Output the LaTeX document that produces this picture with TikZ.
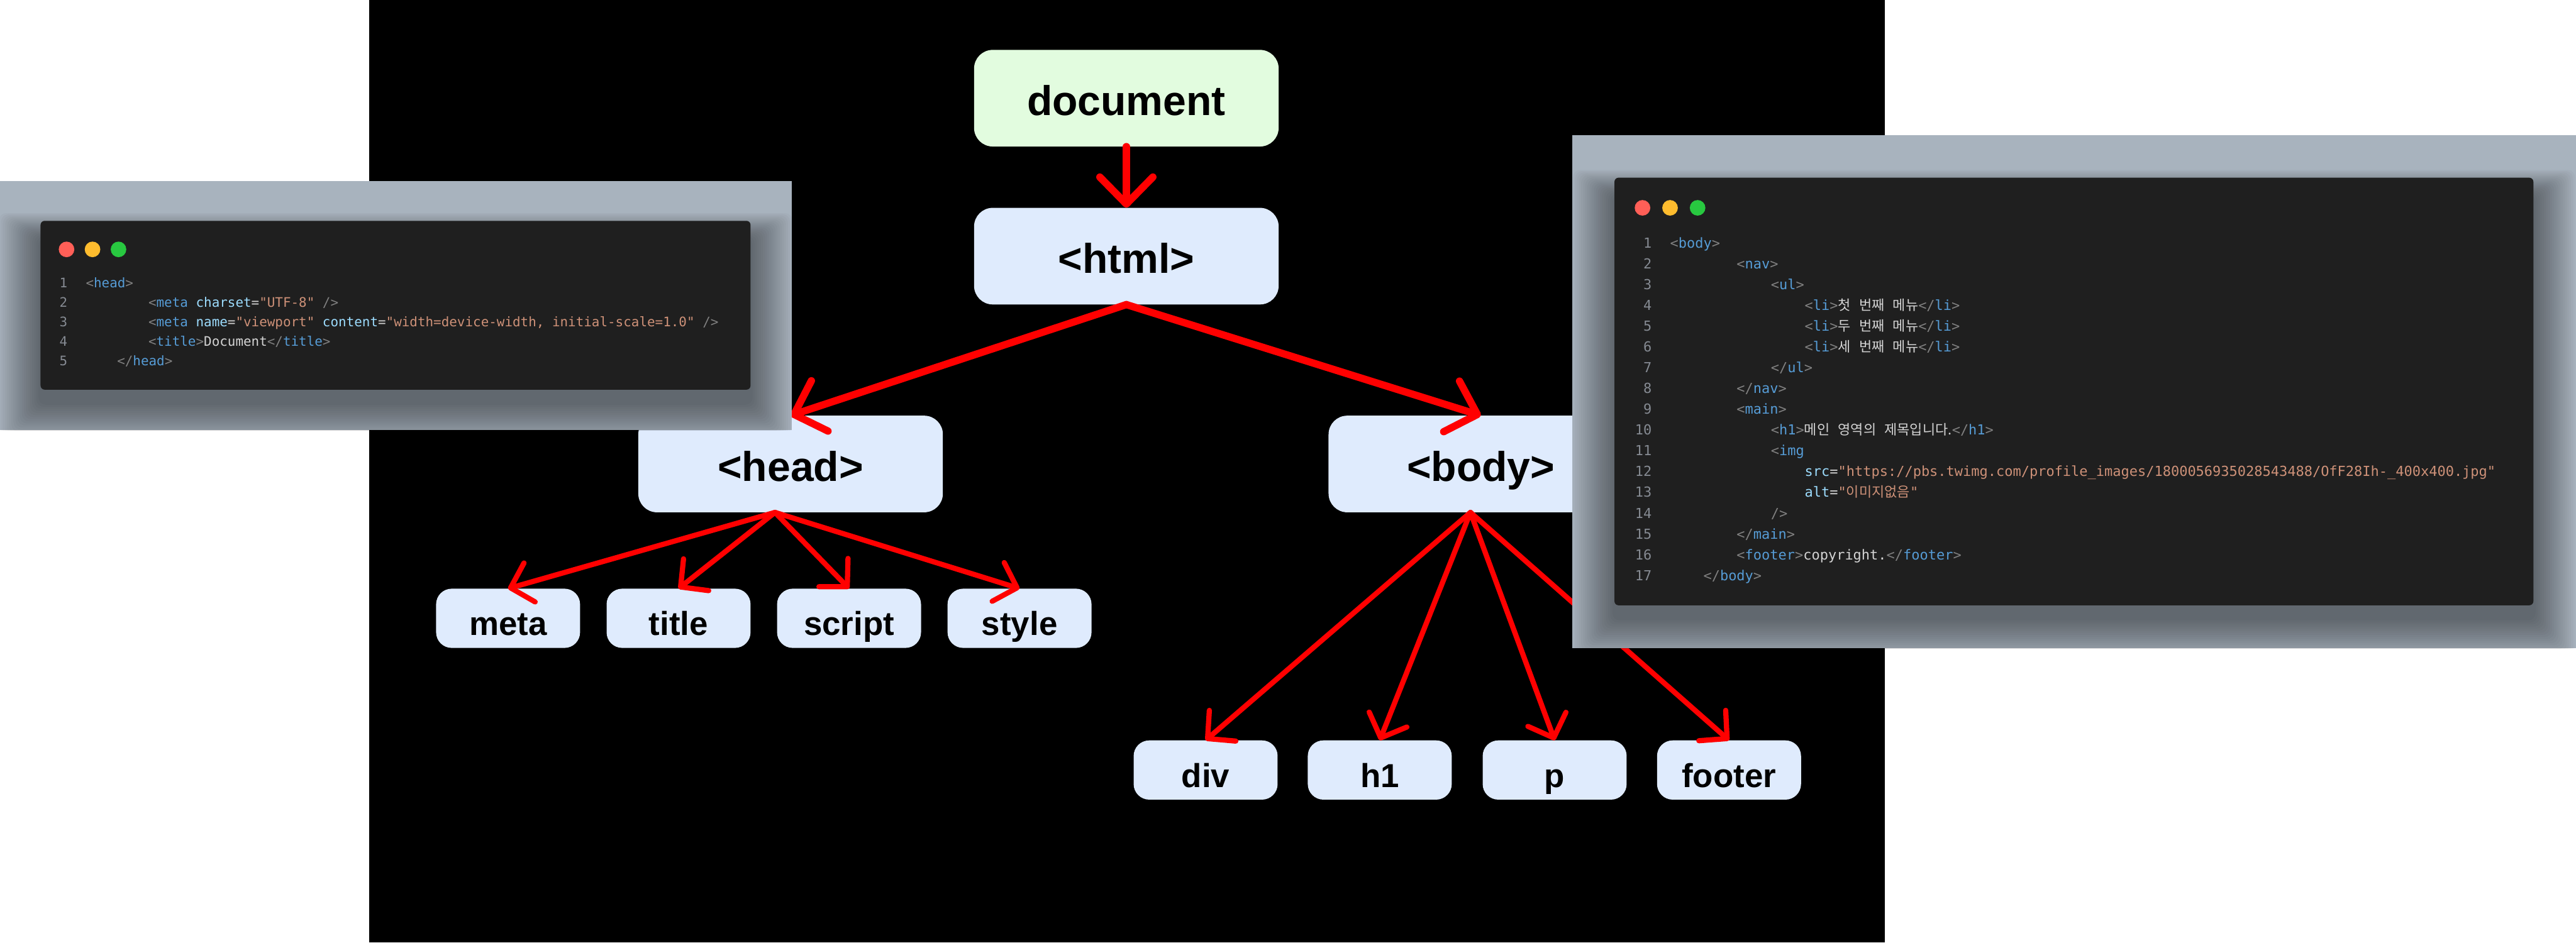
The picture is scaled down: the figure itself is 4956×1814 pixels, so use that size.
\documentclass[tikz,border=0pt]{standalone}
\usepackage{fontspec}
\setmainfont{Liberation Sans}
\setmonofont{DejaVu Sans Mono}
\newfontfamily\krfont{Noto Sans CJK KR}
\usetikzlibrary{arrows.meta}
\definecolor{nodeblue}{HTML}{DFEBFD}
\definecolor{nodegreen}{HTML}{E2FCDF}
\definecolor{panelbg}{HTML}{A8B3BE}
\definecolor{cardbg}{HTML}{1F1F1F}
\definecolor{cBr}{HTML}{808080}
\definecolor{cTag}{HTML}{569CD6}
\definecolor{cAttr}{HTML}{9CDCFE}
\definecolor{cStr}{HTML}{CE9178}
\definecolor{cTxt}{HTML}{D4D4D4}
\definecolor{cNum}{HTML}{858A92}
\definecolor{arrowred}{HTML}{FF0000}
\definecolor{tlred}{HTML}{FF5F57}
\definecolor{tlyellow}{HTML}{FEBC2E}
\definecolor{tlgreen}{HTML}{28C840}
\newcommand\kr[1]{{\krfont #1}}
\newcommand\cBr[1]{\textcolor{cBr}{#1}}
\newcommand\cTg[1]{\textcolor{cTag}{#1}}
\newcommand\cAt[1]{\textcolor{cAttr}{#1}}
\newcommand\cSt[1]{\textcolor{cStr}{#1}}
\newcommand\otag[1]{\cBr{<}\cTg{#1}\cBr{>}}
\newcommand\ctag[1]{\cBr{</}\cTg{#1}\cBr{>}}
\tikzset{
  topnode/.style={rounded corners=36pt, fill=nodeblue, minimum width=586pt, minimum height=186pt,
    inner sep=0pt, text height=66pt, text depth=0pt, font=\bfseries\fontsize{80}{96}\selectfont},
  leafnode/.style={rounded corners=30pt, fill=nodeblue, minimum width=277pt, minimum height=114pt,
    inner sep=0pt, text height=66pt, text depth=0pt, font=\bfseries\fontsize{64}{77}\selectfont},
  toparrow/.style={draw=arrowred, line width=14pt, line cap=round,
    -{Straight Barb[length=52pt,width=102pt,round]}},
  leafarrow/.style={draw=arrowred, line width=10pt, line cap=round,
    -{Straight Barb[length=38pt,width=78pt,round]}},
  lcode/.style={anchor=base west, inner sep=0pt, text=cTxt, font=\ttfamily\fontsize{25.3}{30}\selectfont},
  lnum/.style={anchor=base east, inner sep=0pt, text=cNum, font=\ttfamily\fontsize{25.3}{30}\selectfont},
  rcode/.style={anchor=base west, inner sep=0pt, text=cTxt, font=\ttfamily\fontsize{26.6}{32}\selectfont},
  rnum/.style={anchor=base east, inner sep=0pt, text=cNum, font=\ttfamily\fontsize{26.6}{32}\selectfont},
  light/.style={circle, minimum size=30pt, inner sep=0pt},
  shadowstep/.style={black, opacity=0.022, rounded corners=14pt},
}
\begin{document}
\begin{tikzpicture}[x=1pt, y=-1pt]
\useasboundingbox (0,0) rectangle (4956,1814);
\fill[white] (0,0) rectangle (4956,1814);
\fill[black] (710,0) rectangle (3626,1814);

% tree nodes
\node[topnode, fill=nodegreen] (doc) at (2167,189) {document};
\node[topnode] (html) at (2167,493) {<html>};
\node[topnode] (head) at (1521,893) {<head>};
\node[topnode] (body) at (2849,893) {<body>};
\node[leafnode] (meta) at (977.5,1190) {meta};
\node[leafnode] (title) at (1305.5,1190) {title};
\node[leafnode] (script) at (1633.5,1190) {script};
\node[leafnode] (style) at (1961.5,1190) {style};
\node[leafnode] (div) at (2319.5,1482) {div};
\node[leafnode] (h1) at (2654.5,1482) {h1};
\node[leafnode] (p) at (2991,1482) {p};
\node[leafnode] (footer) at (3326.5,1482) {footer};

% connectors
\draw[toparrow] (doc.south) -- (html.north);
\draw[toparrow] (html.south) -- (head.north);
\draw[toparrow] (html.south) -- (body.north);
\coordinate (hs) at ([xshift=-30pt]head.south);
\coordinate (bs) at ([xshift=-20pt]body.south);
\foreach \t in {meta,title,script,style}{\draw[leafarrow] (hs) -- (\t.north);}
\foreach \t in {div,h1,p,footer}{\draw[leafarrow] (bs) -- (\t.north);}

% left code panel
\fill[panelbg] (0,348) rectangle (1523,828);
\begin{scope}
  \clip (0,348) rectangle (1523,828);
  \foreach \i in {1,...,20}{
    \fill[shadowstep] (78-4*\i, 460-2.5*\i) rectangle (1444+4*\i, 775+4*\i);
  }
\end{scope}
\fill[cardbg, rounded corners=8pt] (78,425) rectangle (1444,750);
\node[light, fill=tlred] (lr) at (128,480) {};
\node[light, fill=tlyellow] (ly) at (178,480) {};
\node[light, fill=tlgreen] (lg) at (228,480) {};
\foreach \n in {1,...,5}{\node[lnum] (ln\n) at (130,553+37.75*\n-37.75) {\n};}
\node[lcode] (lc1) at (165,553) {\otag{head}};
\node[lcode] (lc2) at (285.4,590.75) {\cBr{<}\cTg{meta} \cAt{charset}=\cSt{"UTF-8"} \cBr{/>}};
\node[lcode] (lc3) at (285.4,628.5) {\cBr{<}\cTg{meta} \cAt{name}=\cSt{"viewport"} \cAt{content}=\cSt{"width=device-width, initial-scale=1.0"} \cBr{/>}};
\node[lcode] (lc4) at (285.4,666.25) {\otag{title}Document\ctag{title}};
\node[lcode] (lc5) at (225.2,704) {\ctag{head}};

% right code panel
\fill[panelbg] (3025,260) rectangle (4956,1248);
\begin{scope}
  \clip (3025,260) rectangle (4956,1248);
  \foreach \i in {1,...,20}{
    \fill[shadowstep] (3106-4*\i, 377-2.5*\i) rectangle (4874+4*\i, 1190+4*\i);
  }
\end{scope}
\fill[cardbg, rounded corners=8pt] (3106,342) rectangle (4874,1165);
\node[light, fill=tlred] (rr) at (3160,400) {};
\node[light, fill=tlyellow] (ry) at (3213,400) {};
\node[light, fill=tlgreen] (rg) at (3266,400) {};
\foreach \n in {1,...,17}{\node[rnum] (rn\n) at (3178,477+40*\n-40) {\n};}
\node[rcode] (rc1) at (3213,477) {\otag{body}};
\node[rcode] (rc2) at (3341,517) {\otag{nav}};
\node[rcode] (rc3) at (3407,557) {\otag{ul}};
\node[rcode] (rc4) at (3472,597) {\otag{li}\kr{첫} \kr{번째} \kr{메뉴}\ctag{li}};
\node[rcode] (rc5) at (3472,637) {\otag{li}\kr{두} \kr{번째} \kr{메뉴}\ctag{li}};
\node[rcode] (rc6) at (3472,677) {\otag{li}\kr{세} \kr{번째} \kr{메뉴}\ctag{li}};
\node[rcode] (rc7) at (3407,717) {\ctag{ul}};
\node[rcode] (rc8) at (3341,757) {\ctag{nav}};
\node[rcode] (rc9) at (3341,797) {\otag{main}};
\node[rcode] (rc10) at (3407,837) {\otag{h1}\kr{메인} \kr{영역의} \kr{제목입니다.}\ctag{h1}};
\node[rcode] (rc11) at (3407,877) {\cBr{<}\cTg{img}};
\node[rcode] (rc12) at (3472,917) {\cAt{src}=\cSt{"https://pbs.twimg.com/profile\_images/1800056935028543488/OfF28Ih-\_400x400.jpg"}};
\node[rcode] (rc13) at (3472,957) {\cAt{alt}=\cSt{"\kr{이미지없음}"}};
\node[rcode] (rc14) at (3407,997) {\cBr{/>}};
\node[rcode] (rc15) at (3341,1037) {\ctag{main}};
\node[rcode] (rc16) at (3341,1077) {\otag{footer}copyright.\ctag{footer}};
\node[rcode] (rc17) at (3277,1117) {\ctag{body}};
\end{tikzpicture}
\end{document}
